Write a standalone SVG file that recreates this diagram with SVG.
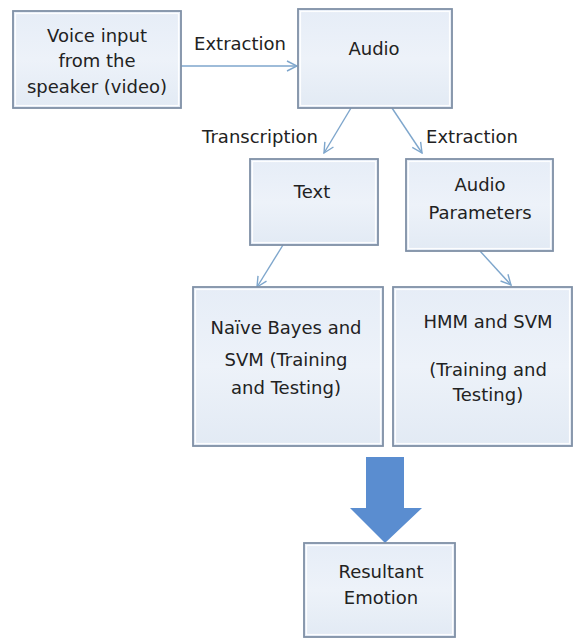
<svg xmlns="http://www.w3.org/2000/svg" width="574" height="641" viewBox="0 0 574 641">
<defs>
<linearGradient id="boxfill" x1="0" y1="0" x2="0" y2="1">
<stop offset="0" stop-color="#e6edf7"/>
<stop offset="0.5" stop-color="#edf2f9"/>
<stop offset="1" stop-color="#e2eaf4"/>
</linearGradient>
<marker id="arr" viewBox="0 0 12 12" refX="11" refY="6" markerWidth="12" markerHeight="12" markerUnits="userSpaceOnUse" orient="auto">
<path d="M1,1 L11,6 L1,11" fill="none" stroke="#7ea6cc" stroke-width="1.4"/>
</marker>
</defs>
<style>
.box{fill:url(#boxfill);stroke:#7f90a6;stroke-width:1.8}
.inner{fill:none;stroke:#ffffff;stroke-width:1.2;opacity:0.9}
.t{font-family:"DejaVu Sans",sans-serif;font-size:18px;fill:#222222;text-anchor:middle}
.lbl{font-family:"DejaVu Sans",sans-serif;font-size:18px;fill:#222222;text-anchor:middle}
.conn{stroke:#7ea6cc;stroke-width:1.4;fill:none;marker-end:url(#arr)}
</style>
<rect width="574" height="641" fill="#ffffff"/>
<g id="connectors">
<line class="conn" x1="181" y1="66" x2="297" y2="66"/>
<line class="conn" x1="351" y1="108" x2="324" y2="153"/>
<line class="conn" x1="392" y1="108" x2="422" y2="153"/>
<line class="conn" x1="283" y1="245" x2="257" y2="287"/>
<line class="conn" x1="480" y1="251" x2="511" y2="285"/>
<polygon points="366,457 404,457 404,508 422,508 385,543 350,508 366,508" fill="#5a8dd0"/>
<text class="lbl" x="240" y="50">Extraction</text>
<text class="lbl" x="260" y="143">Transcription</text>
<text class="lbl" x="472" y="143">Extraction</text>
</g>
<g id="n1">
<rect class="box" x="13" y="11" width="168" height="97"/>
<rect class="inner" x="15.5" y="13.5" width="163" height="92"/>
<text class="t" x="97" y="42">Voice input</text>
<text class="t" x="97" y="67">from the</text>
<text class="t" x="97" y="93">speaker (video)</text>
</g>
<g id="n2">
<rect class="box" x="298" y="9" width="154" height="99"/>
<rect class="inner" x="300.5" y="11.5" width="149" height="94"/>
<text class="t" x="374" y="55">Audio</text>
</g>
<g id="n3">
<rect class="box" x="250" y="159" width="128" height="86"/>
<rect class="inner" x="252.5" y="161.5" width="123" height="81"/>
<text class="t" x="312" y="198">Text</text>
</g>
<g id="n4">
<rect class="box" x="406" y="159" width="147" height="92"/>
<rect class="inner" x="408.5" y="161.5" width="142" height="87"/>
<text class="t" x="480" y="191">Audio</text>
<text class="t" x="480" y="219">Parameters</text>
</g>
<g id="n5">
<rect class="box" x="193" y="287" width="190" height="159"/>
<rect class="inner" x="195.5" y="289.5" width="185" height="154"/>
<text class="t" x="286" y="334">Naïve Bayes and</text>
<text class="t" x="286" y="366">SVM (Training</text>
<text class="t" x="286" y="394">and Testing)</text>
</g>
<g id="n6">
<rect class="box" x="393" y="287" width="179" height="159"/>
<rect class="inner" x="395.5" y="289.5" width="174" height="154"/>
<text class="t" x="488" y="328">HMM and SVM</text>
<text class="t" x="488" y="376">(Training and</text>
<text class="t" x="488" y="401">Testing)</text>
</g>
<g id="n7">
<rect class="box" x="304" y="543" width="151" height="94"/>
<rect class="inner" x="306.5" y="545.5" width="146" height="89"/>
<text class="t" x="381" y="578">Resultant</text>
<text class="t" x="381" y="604">Emotion</text>
</g>
</svg>
